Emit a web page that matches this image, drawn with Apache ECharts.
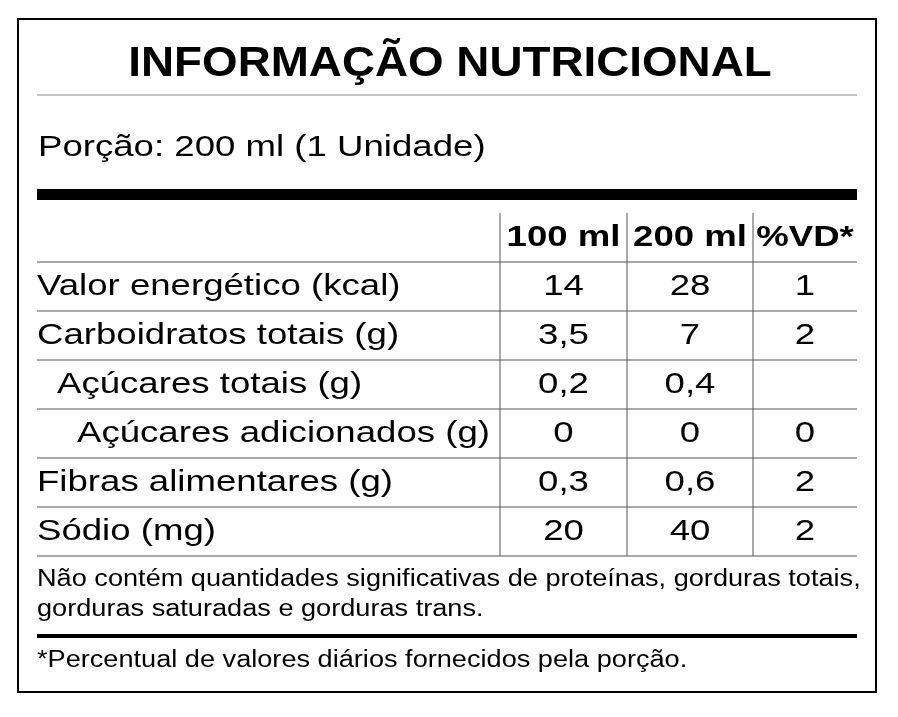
<!DOCTYPE html>
<html><head><meta charset="utf-8">
<script src="https://cdn.jsdelivr.net/npm/echarts@6/dist/echarts.min.js"></script>
<style>html,body{margin:0;background:#fff}#c{width:898px;height:717px}</style>
</head><body><div id="c"></div>
<script>
const title = "INFORMAÇÃO NUTRICIONAL";
const portion = "Porção: 200 ml (1 Unidade)";
const columns = ["100 ml", "200 ml", "%VD*"];
const nutrients = ["Valor energético (kcal)", "Carboidratos totais (g)", "Açúcares totais (g)", "Açúcares adicionados (g)", "Fibras alimentares (g)", "Sódio (mg)"];
const indentLevel = [0, 0, 1, 2, 0, 0];
const per100 = ["14", "3,5", "0,2", "0", "0,3", "20"];
const per200 = ["28", "7", "0,4", "0", "0,6", "40"];
const vd = ["1", "2", "", "0", "2", "2"];
const note1 = "Não contém quantidades significativas de proteínas, gorduras totais,";
const note2 = "gorduras saturadas e gorduras trans.";
const footer = "*Percentual de valores diários fornecidos pela porção.";

const F = "Liberation Sans, Arial, sans-serif";
const L = 37, R = 857;
const colX = [500, 627, 753, 857];
const headTop = 213, headBot = 262, rowH = 49;
const els = [];
const rect = (x, y, w, h, fill) => els.push({type:'rect', shape:{x, y, width:w, height:h}, style:{fill}});
const line = (x1, y1, x2, y2, stroke, lw) => els.push({type:'line', shape:{x1, y1, x2, y2}, style:{stroke, lineWidth:lw}});
const text = (t, x, y, size, align, bold, sx) => els.push({type:'text', x, y, scaleX:sx, style:{text:t, x:0, y:0, fill:'#000', font:(bold?'bold ':'')+size+'px '+F, textAlign:align, textVerticalAlign:'middle'}});

els.push({type:'rect', shape:{x:18, y:19, width:858, height:673}, style:{fill:'none', stroke:'#000', lineWidth:2}});
text(title, 450, 64, 42, 'center', true, 1.09);
line(L, 95, R, 95, '#888', 1);
text(portion, 38, 148, 30, 'left', false, 1.22);
rect(L, 189, R - L, 11, '#000');
columns.forEach((c, i) => text(c, (colX[i] + colX[i+1]) / 2, 238, 30, 'center', true, 1.22));
[colX[0], colX[1], colX[2]].forEach(x => line(x, headTop, x, headBot + rowH * nutrients.length, '#555', 1));
line(L, headBot, R, headBot, '#555', 1);
nutrients.forEach((n, i) => {
  const cy = headBot + rowH * i + rowH / 2;
  text(n, L + indentLevel[i] * 20, cy, 30, 'left', false, 1.22);
  [per100[i], per200[i], vd[i]].forEach((v, j) => text(v, (colX[j] + colX[j+1]) / 2, cy, 30, 'center', false, 1.22));
  line(L, headBot + rowH * (i + 1), R, headBot + rowH * (i + 1), '#555', 1);
});
text(note1, L, 580, 23, 'left', false, 1.18);
text(note2, L, 610, 23, 'left', false, 1.18);
rect(L, 634, R - L, 4, '#000');
text(footer, L, 661, 23, 'left', false, 1.18);

const chart = echarts.init(document.getElementById('c'));
chart.setOption({animation:false, backgroundColor:'#fff', graphic:{elements:els}});
</script></body></html>
